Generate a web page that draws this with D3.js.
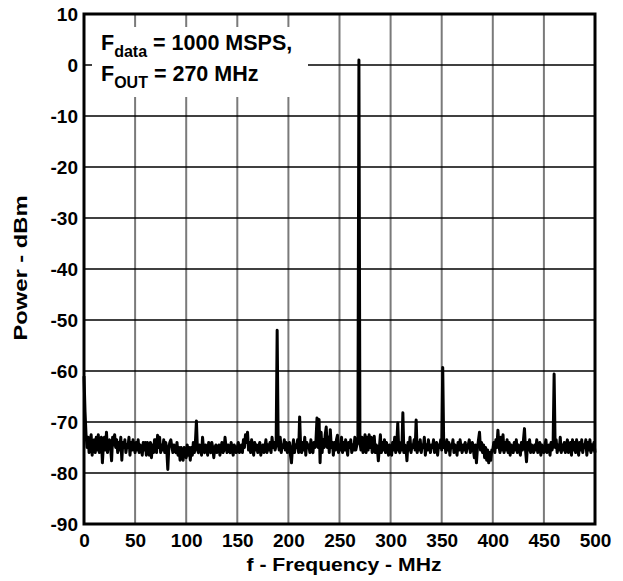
<!DOCTYPE html>
<html><head><meta charset="utf-8">
<script src="https://cdn.jsdelivr.net/npm/d3@7/dist/d3.min.js"></script>
<style>body{margin:0;background:#fff}svg{display:block}text{font-family:"Liberation Sans",Arial,sans-serif;font-weight:bold}</style>
</head><body><svg id="c" width="623" height="581"></svg>
<script>
const startFreq = 0, stepMHz = 1;
const power = [
-61,-68,-72.5,-75,-73,-76,-74,-72.5,-76.5,-74,
-73.5,-76,-73,-75.5,-72.5,-76,-74,-73,-78,-74.5,
-73,-75.5,-72,-76,-74,-73.5,-75,-77.6,-73,-74.5,
-72.5,-75,-73.5,-76,-74,-75.5,-73,-77.5,-74,-75,
-73.5,-76,-74.5,-75,-73,-76.5,-74,-75.5,-73.5,-75,
-76,-74,-75.5,-73.5,-76,-74.5,-75,-76.5,-74,-75.5,
-74,-76.5,-74,-75.5,-76.5,-74,-77,-74.5,-76,-73.5,
-73.5,-76,-72.6,-75,-73,-76,-74.5,-75.5,-73.5,-76,
-74,-75.5,-79.3,-75,-74,-73.5,-75,-76,-74.5,-75.5,
-76,-74,-76.5,-75,-77.5,-75,-76.5,-77.5,-75,-76.5,
-77,-74.5,-76.5,-75,-77.5,-75,-76.5,-74,-76,-74,
-69.8,-75.5,-76,-74.5,-75,-76.5,-73,-75.5,-76,-74.5,
-75,-76.5,-74,-75.5,-76,-74,-75,-77,-75,-74.5,
-76,-75,-74.5,-76.5,-75,-74,-76,-75.5,-73,-75,
-76,-74.5,-75.5,-76,-74,-75.5,-76.5,-74.5,-75,-76,
-75,-74,-76,-75.5,-74.5,-76,-73.5,-75,-72.5,-74,
-72,-75.5,-74,-76,-73.5,-75,-76.5,-74,-75.5,-74.5,
-76,-75,-74,-76.5,-75,-74.5,-76,-75,-73.5,-76,
-74.5,-75.5,-74,-76,-73,-75,-74,-75.5,-74.5,-52,
-74,-75.5,-73,-76,-74.5,-75,-73.5,-75.5,-74,-76,
-75,-74,-76.5,-78,-75,-73.5,-76,-74.5,-75,-73.5,
-76,-69,-75,-76,-74,-75.5,-73,-76.5,-74,-75,
-74.5,-76,-73.5,-75.5,-76,-74,-75,-73.5,-69.2,-75,
-69.5,-78,-72,-76,-73.5,-75,-72.5,-71,-75,-73,
-76,-71.5,-75,-74,-76.5,-74,-75.5,-73.5,-72.6,-76,
-74.5,-75.5,-73,-76,-74,-75.5,-73.5,-75,-76.5,-74,
-75,-73.5,-76,-74.5,-75.5,-73,-75.5,-74.5,-74,1,
-74,-75.5,-73,-76,-74.5,-72.5,-76,-73,-75.5,-72.5,
-75,-73,-76,-74.5,-72.8,-76,-74.5,-75,-77.6,-75,
-72.5,-76,-74,-75.5,-73.5,-76,-74,-75.5,-76.5,-74.5,
-75,-76.5,-74,-75.5,-73,-76,-74.5,-70.2,-75.5,-76,
-74,-75.5,-68.2,-76,-74.5,-75,-77.6,-74,-75.5,-73,
-76,-74.5,-75,-73.5,-75.5,-69.6,-76,-74,-75.5,-73.5,
-76,-74.5,-75,-73,-76.5,-74.5,-75.5,-73.5,-75,-76,
-74.5,-75,-73.5,-76,-75,-74,-76.5,-74.5,-75,-73.5,
-75.5,-59.3,-75,-74,-76,-73.5,-75.5,-74,-76.5,-74.5,
-75,-73.5,-76,-74.5,-75,-76.5,-74,-75.5,-73.5,-75,
-76,-74.5,-75.5,-74,-76,-75,-74.5,-73.5,-76,-75,
-74,-75.5,-77,-74.5,-78,-75,-73.5,-72,-75.5,-74,
-76,-74.5,-77,-75,-77.5,-75.5,-78,-76,-77.5,-75.5,
-75.5,-74,-76,-73.5,-75,-71.6,-74.5,-76,-73,-75.5,
-72.5,-76,-74,-75.5,-73.5,-76,-74,-76.5,-74.5,-75,
-76,-74,-75.5,-73.5,-76,-74.5,-75,-76.5,-74,-75.5,
-73.5,-71.3,-75.5,-77.8,-74,-75.5,-73.5,-76,-74.5,-75,
-76,-74.5,-75.5,-73.5,-76,-75,-74,-76.5,-74.5,-75,
-76,-74.5,-73.5,-76,-75,-74.5,-76.5,-74,-75.5,-74.5,
-60.6,-75,-73.5,-76,-74.5,-75.5,-73,-76,-74.5,-75.5,
-74,-76,-74.5,-73.5,-76,-75,-74,-76.5,-73.5,-75.5,
-74,-76,-73.5,-75,-76.5,-74,-75.5,-73.5,-76,-74.5,
-75,-73.5,-76.5,-74,-75.5,-73.5,-76,-74.5,-75.5,-74,
-76
];
const xTicks = [0,50,100,150,200,250,300,350,400,450,500];
const yTicks = [10,0,-10,-20,-30,-40,-50,-60,-70,-80,-90];
const xLabel = "f - Frequency - MHz";
const yLabel = "Power - dBm";
const note1 = {main:"F", sub:"data", rest:" = 1000 MSPS,"};
const note2 = {main:"F", sub:"OUT", rest:" = 270 MHz"};

const svg = d3.select("#c");
const L=84, R=595, T=14, B=524;
const x = d3.scaleLinear().domain([0,500]).range([L,R]);
const y = d3.scaleLinear().domain([-90,10]).range([B,T]);
const data = power.map((v,i)=>({f:startFreq+i*stepMHz, p:v}));
const fmt = d => String(d);

// gridlines
svg.append("g").selectAll("line").data(xTicks.slice(1,-1)).join("line")
  .attr("x1",d=>x(d)).attr("x2",d=>x(d)).attr("y1",T).attr("y2",B)
  .attr("stroke","#7a7a7a").attr("stroke-width",2);
svg.append("g").selectAll("line").data(yTicks.slice(1,-1)).join("line")
  .attr("x1",L).attr("x2",R).attr("y1",d=>y(d)).attr("y2",d=>y(d))
  .attr("stroke","#000").attr("stroke-width",1.3);

// annotation box
svg.append("rect").attr("x",92).attr("y",27).attr("width",216).attr("height",70).attr("fill","#fff");
function note(n, yy){
  const t = svg.append("text").attr("x",101).attr("y",yy).attr("font-size",21.5).attr("fill","#000");
  t.append("tspan").text(n.main);
  t.append("tspan").attr("font-size",16).attr("dy",7).text(n.sub);
  t.append("tspan").attr("dy",-7).text(n.rest);
}
note(note1,50);
note(note2,81);

// trace
svg.append("path").datum(data)
  .attr("d", d3.line().x(d=>x(d.f)).y(d=>y(d.p)))
  .attr("fill","none").attr("stroke","#000").attr("stroke-width",3).attr("stroke-linejoin","round");

// frame
svg.append("rect").attr("x",L).attr("y",T).attr("width",R-L).attr("height",B-T)
  .attr("fill","none").attr("stroke","#000").attr("stroke-width",3);

// axes labels
const xAxis = svg.append("g").attr("transform",`translate(0,${B})`)
  .call(d3.axisBottom(x).tickValues(xTicks).tickSize(0).tickPadding(10).tickFormat(fmt));
xAxis.select(".domain").remove();
xAxis.selectAll("text").attr("font-size",19).attr("font-family",null).attr("fill","#000");
const yAxis = svg.append("g").attr("transform",`translate(${L},0)`)
  .call(d3.axisLeft(y).tickValues(yTicks).tickSize(0).tickPadding(6).tickFormat(fmt));
yAxis.select(".domain").remove();
yAxis.selectAll("text").attr("font-size",19).attr("font-family",null).attr("fill","#000");

svg.append("text").attr("x",344).attr("y",571).attr("text-anchor","middle")
  .attr("font-size",18).attr("textLength",195).attr("lengthAdjust","spacingAndGlyphs").text(xLabel);
svg.append("text").attr("transform",`translate(27,268) rotate(-90)`).attr("text-anchor","middle")
  .attr("font-size",18).attr("textLength",145).attr("lengthAdjust","spacingAndGlyphs").text(yLabel);
</script></body></html>
